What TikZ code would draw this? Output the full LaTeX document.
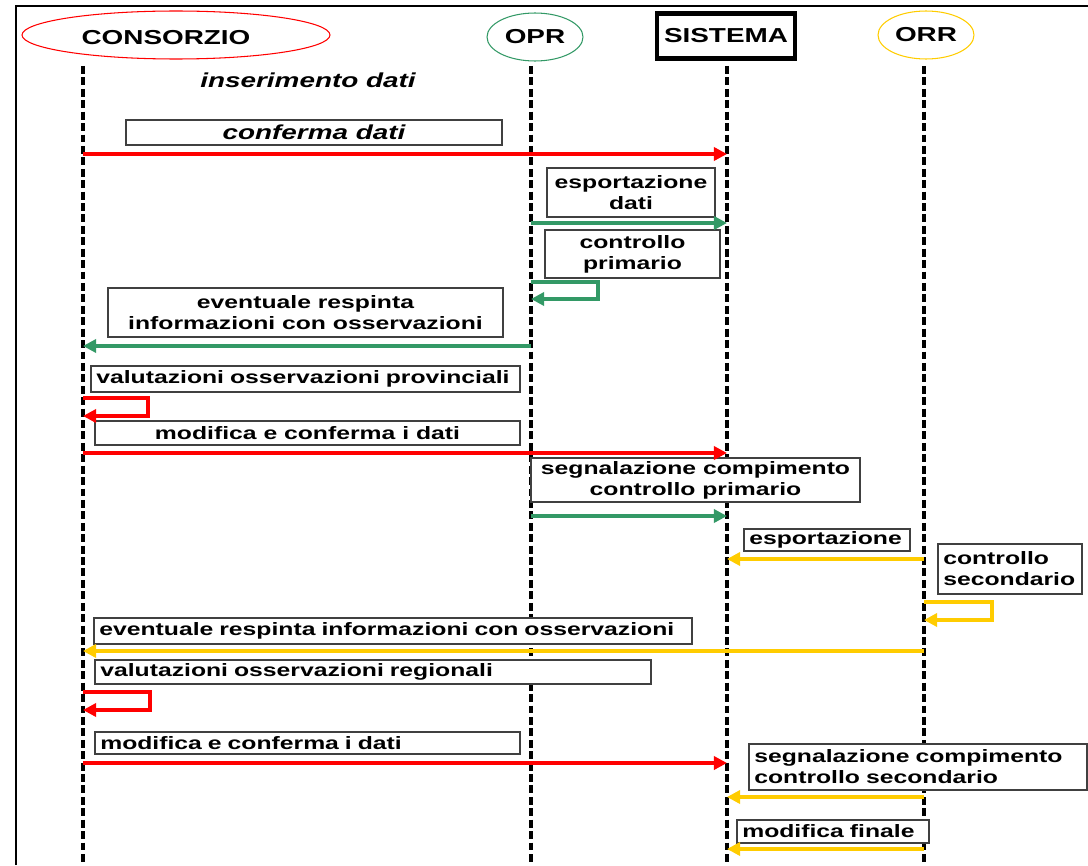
\documentclass[tikz,border=0pt]{standalone}
\usepackage{fontspec}
\setmainfont{Liberation Sans}[FakeStretch=1.38]
\usetikzlibrary{arrows.meta,shapes.geometric}

\definecolor{oprgreen}{RGB}{51,153,102}
\definecolor{orryellow}{RGB}{255,204,0}
\definecolor{boxgray}{RGB}{64,64,64}

\tikzset{
  lifeline/.style={line width=2pt, dash pattern=on 4.5pt off 2pt},
  msgbox/.style={draw=boxgray, fill=white, line width=0.7pt, inner xsep=3pt, inner ysep=0pt,
    font=\fontsize{10.2}{12}\selectfont\bfseries},
  leftbox/.style={msgbox, align=left, text width=#1},
  headtext/.style={font=\fontsize{11.5}{13}\selectfont\bfseries},
  headell/.style={draw=#1, ellipse, line width=0.6pt, inner sep=0pt,
    minimum width=1.92cm, minimum height=0.96cm},
  msg/.style={draw=#1, line width=2.2pt, -{Triangle[length=7.5pt,width=7.5pt]}},
}

\begin{document}
\begin{tikzpicture}[x=0.02cm, y=-0.02cm]
    \useasboundingbox (0,0) rectangle (1088,865);
    \draw[line width=1.2pt] (16,865) -- (16,6) -- (1088,6);

    % heads
    \node[headell=red, minimum width=6.16cm] (hcons) at (176,35) {};
    \node[headtext] (tcons) at (166,38) {CONSORZIO};
    \node[headell=oprgreen, headtext] (hopr) at (535,37) {OPR};
    \node[draw, line width=2.3pt, headtext, minimum width=2.76cm, minimum height=0.9cm,
      inner sep=0pt] (hsis) at (726,36) {SISTEMA};
    \node[headell=orryellow, headtext] (horr) at (926,35) {ORR};

    % lifelines
    \coordinate (lcons) at (83,66);
    \coordinate (lopr) at (531,66);
    \coordinate (lsis) at (727,66);
    \coordinate (lorr) at (924,66);
    \coordinate (bottom) at (0,865);
    \draw[lifeline] (lcons) -- (lcons |- bottom);
    \draw[lifeline] (lopr) -- (lopr |- bottom);
    \draw[lifeline] (lsis) -- (lsis |- bottom);
    \draw[lifeline] (lorr) -- (lorr |- bottom);

    % labels
    \node[headtext, font=\fontsize{11.5}{13}\selectfont\bfseries\itshape] (ins) at (308,80) {inserimento dati};
    \node[msgbox, font=\fontsize{11.5}{13}\selectfont\bfseries\itshape,
      minimum width=7.52cm, minimum height=0.5cm] (b1) at (314,132.5) {conferma dati};
    \node[msgbox, align=center, minimum width=3.36cm, minimum height=0.98cm] (b2) at (631,192.5) {esportazione\\dati};
    \node[msgbox, align=center, minimum width=3.5cm, minimum height=0.96cm] (b3) at (632.5,254) {controllo\\primario};
    \node[msgbox, align=center, minimum width=7.9cm, minimum height=0.98cm] (b4) at (305.5,312.5) {eventuale respinta\\informazioni con osservazioni};
    \node[leftbox=8.37cm, minimum height=0.52cm] (b5) at (305.5,379) {valutazioni osservazioni provinciali};
    \node[msgbox, minimum width=8.5cm, minimum height=0.48cm] (b6) at (307.5,433) {modifica e conferma i dati};
    \node[msgbox, align=center, minimum width=6.58cm, minimum height=0.88cm] (b7) at (695.5,480) {segnalazione compimento\\controllo primario};
    \node[leftbox=3.11cm, minimum height=0.44cm] (b8) at (827,540) {esportazione};
    \node[leftbox=2.67cm, minimum height=1cm] (b9) at (1010,569) {controllo\\secondario};
    \node[leftbox=11.75cm, minimum height=0.52cm] (b10) at (393,631) {eventuale respinta informazioni con osservazioni};
    \node[leftbox=10.91cm, minimum height=0.48cm] (b11) at (373,672) {valutazioni osservazioni regionali};
    \node[leftbox=8.29cm, minimum height=0.44cm] (b12) at (307.5,743) {modifica e conferma i dati};
    \node[leftbox=6.55cm, minimum height=0.92cm] (b13) at (918,767) {segnalazione compimento\\controllo secondario};
    \node[leftbox=3.63cm, minimum height=0.46cm] (b14) at (833,831.5) {modifica finale};

    % messages
    \coordinate (r1) at (0,154);
    \coordinate (r2) at (0,223);
    \coordinate (r3a) at (0,282);
    \coordinate (r3b) at (0,299);
    \coordinate (r4) at (0,346);
    \coordinate (r5a) at (0,398);
    \coordinate (r5b) at (0,416);
    \coordinate (r6) at (0,453);
    \coordinate (r7) at (0,516);
    \coordinate (r8) at (0,559);
    \coordinate (r9a) at (0,602);
    \coordinate (r9b) at (0,620);
    \coordinate (r10) at (0,651);
    \coordinate (r11a) at (0,692);
    \coordinate (r11b) at (0,710);
    \coordinate (r12) at (0,763);
    \coordinate (r13) at (0,797);
    \coordinate (r14) at (0,849);

    \draw[msg=red] (lcons |- r1) -- (lsis |- r1);
    \draw[msg=oprgreen] (lopr |- r2) -- (lsis |- r2);
    \draw[msg=oprgreen] (lopr |- r3a) -- ++(67,0) |- (lopr |- r3b);
    \draw[msg=oprgreen] (lopr |- r4) -- (lcons |- r4);
    \draw[msg=red] (lcons |- r5a) -- ++(65,0) |- (lcons |- r5b);
    \draw[msg=red] (lcons |- r6) -- (lsis |- r6);
    \draw[msg=oprgreen] (lopr |- r7) -- (lsis |- r7);
    \draw[msg=orryellow] (lorr |- r8) -- (lsis |- r8);
    \draw[msg=orryellow] (lorr |- r9a) -- ++(68,0) |- (lorr |- r9b);
    \draw[msg=orryellow] (lorr |- r10) -- (lcons |- r10);
    \draw[msg=red] (lcons |- r11a) -- ++(67,0) |- (lcons |- r11b);
    \draw[msg=red] (lcons |- r12) -- (lsis |- r12);
    \draw[msg=orryellow] (lorr |- r13) -- (lsis |- r13);
    \draw[msg=orryellow] (lorr |- r14) -- (lsis |- r14);
\end{tikzpicture}
\end{document}
